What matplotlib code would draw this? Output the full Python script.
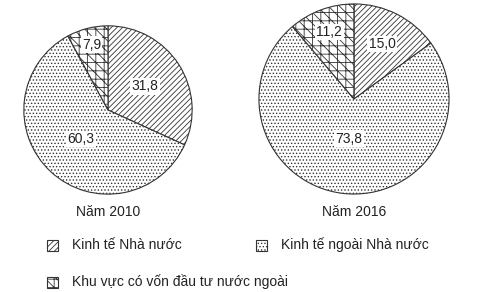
import numpy as np
import matplotlib
matplotlib.use("Agg")
import matplotlib.pyplot as plt
from matplotlib.patches import Rectangle

plt.rcParams['font.family'] = ['Liberation Sans', 'DejaVu Sans']
plt.rcParams['hatch.linewidth'] = 0.6

categories = ["Kinh tế Nhà nước", "Kinh tế ngoài Nhà nước", "Khu vực có vốn đầu tư nước ngoài"]
values_2010 = [31.8, 60.3, 7.9]
values_2016 = [15.0, 73.8, 11.2]
years = ["Năm 2010", "Năm 2016"]
hatches = ['//////', '.....', '++\\\\\\']
label_r_2010 = [0.52, 0.47, 0.8]
label_r_2016 = [0.65, 0.42, 0.75]

W, H = 487, 292
fig = plt.figure(figsize=(W / 100, H / 100), dpi=100)

def draw(vals, cx, cy, r, year, lr):
    ax = fig.add_axes([(cx - r) / W, (H - cy - r) / H, 2 * r / W, 2 * r / H])
    wedges, _ = ax.pie(vals, startangle=90, counterclock=False, radius=1,
                       colors=['white'] * 3,
                       wedgeprops=dict(edgecolor='#333333', linewidth=0.8))
    for w, h, v, rr in zip(wedges, hatches, vals, lr):
        w.set_hatch(h)
        mid = np.deg2rad((w.theta1 + w.theta2) / 2)
        ax.text(rr * np.cos(mid), rr * np.sin(mid), f"{v:.1f}".replace('.', ','),
                ha='center', va='center', fontsize=10, color='#222222',
                bbox=dict(facecolor='white', edgecolor='none', pad=1.0))
    ax.set_xlim(-1.01, 1.01)
    ax.set_ylim(-1.01, 1.01)
    ax.set_aspect('equal')
    ax.axis('off')
    fig.text(cx / W, 1 - 212 / H, year, ha='center', va='center', fontsize=10, color='#222222')

draw(values_2010, 108, 110, 85, years[0], label_r_2010)
draw(values_2016, 354, 99, 96, years[1], label_r_2016)

legend_pos = [(47, 245), (256, 245), (47, 282)]
for (x, y), h, c in zip(legend_pos, hatches, categories):
    fig.add_artist(Rectangle((x / W, 1 - (y + 5.5) / H), 11 / W, 11 / H,
                             transform=fig.transFigure, facecolor='white',
                             edgecolor='#333333', linewidth=0.8, hatch=h))
    fig.text((x + 25) / W, 1 - y / H, c, ha='left', va='center', fontsize=10, color='#222222')

fig.savefig("out.png", dpi=100)
